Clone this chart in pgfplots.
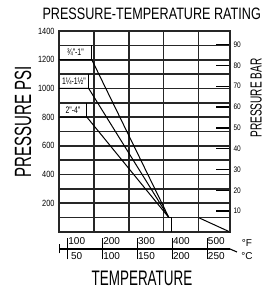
\documentclass[border=0pt]{standalone}
\usepackage{fontspec}
\setmainfont{Liberation Sans}
\newfontfamily\cond[FakeStretch=0.64]{Liberation Sans}
\newfontfamily\condt[FakeStretch=0.765]{Liberation Sans}
\newfontfamily\condr[FakeStretch=0.63]{Liberation Sans}
\newfontfamily\numf[FakeStretch=0.82]{Liberation Sans}
\newfontfamily\numn[FakeStretch=0.72]{Liberation Sans}
\usepackage{pgfplots}
\pgfplotsset{compat=1.18}
\definecolor{gridc}{gray}{0.15}
\begin{document}
\begin{tikzpicture}[x=1pt,y=1pt]
\useasboundingbox (0,0) rectangle (265,294);
\clip (0,0) rectangle (265,294);
% main axis (psi vs deg F)
\begin{axis}[
  at={(59pt,62pt)}, anchor=south west,
  scale only axis, width=171pt, height=201pt,
  xmin=75, xmax=565, ymin=0, ymax=1400,
  xtick={175,275,375,475}, xticklabels={},
  ytick={200,400,...,1400}, minor ytick={100,300,...,1300},
  grid=both,
  major grid style={line width=1.6pt, gridc},
  minor grid style={line width=1.6pt, gridc},
  axis line style={line width=1.7pt, gridc},
  major tick length=0pt, minor tick length=0pt,
  /pgf/number format/assume math mode=true,
  /pgf/number format/1000 sep={},
  yticklabel style={font=\numf\fontsize{9}{9}\selectfont, xshift=-1pt},
  clip=false,
]
\addplot[black, line width=1pt] coordinates {(75,1200) (169,1200) (390,100)};
\addplot[black, line width=1pt] coordinates {(75,1000) (160,1000) (390,100)};
\addplot[black, line width=1pt] coordinates {(75,800) (155,800) (390,100)};
\addplot[black, line width=1pt] coordinates {(390,100) (396,100) (396,0)};
\addplot[black, line width=1pt] coordinates {(475,100) (565,0)};
\addplot[black, line width=1pt] coordinates {(169,1200) (169,1300)};
\addplot[black, line width=1pt] coordinates {(160,1000) (160,1100)};
\addplot[black, line width=1pt] coordinates {(155,800) (155,900)};
\node[font=\numn\fontsize{9.5}{9.5}\selectfont] at (axis cs:122,1250) {¾"-1"};
\node[font=\numn\fontsize{9.5}{9.5}\selectfont] at (axis cs:118,1050) {1¼-1½"};
\node[font=\numn\fontsize{9.5}{9.5}\selectfont] at (axis cs:115,850) {2"-4"};
\end{axis}
% right axis (bar)
\begin{axis}[
  at={(59pt,62pt)}, anchor=south west,
  scale only axis, width=171pt, height=201pt,
  xmin=75, xmax=565, ymin=0, ymax=96.53,
  axis y line*=right, axis x line=none,
  ytick={10,20,...,90},
  tick align=inside, major tick length=14pt,
  tick style={line width=1.4pt, black},
  axis line style={line width=1.7pt, gridc},
  /pgf/number format/assume math mode=true,
  yticklabel style={font=\numf\fontsize{8}{8}\selectfont, xshift=0pt},
]
\addplot[draw=none] coordinates {(100,0)};
\end{axis}
% temperature scale
\begin{axis}[
  at={(59pt,45pt)}, anchor=south west,
  scale only axis, width=171pt, height=10pt,
  xmin=75, xmax=565, ymin=0, ymax=1,
  axis x line=bottom, hide y axis,
  x axis line style={-, line width=1.3pt, black},
  xtick={100,200,300,400,500}, xticklabels={},
  extra x ticks={75}, extra x tick labels={},
  extra x tick style={major tick length=9pt},
  tick align=center, major tick length=21pt,
  tick style={line width=0.9pt, black},
  clip=false,
  every node/.style={font=\numf\fontsize{8.5}{8.5}\selectfont},
]
\addplot[draw=none] coordinates {(100,0)};
\node at (axis cs:100,0) [xshift=9pt, yshift=7.5pt] {100};
\node at (axis cs:200,0) [xshift=9pt, yshift=7.5pt] {200};
\node at (axis cs:300,0) [xshift=9pt, yshift=7.5pt] {300};
\node at (axis cs:400,0) [xshift=9pt, yshift=7.5pt] {400};
\node at (axis cs:500,0) [xshift=9pt, yshift=7.5pt] {500};
\node at (axis cs:100,0) [xshift=9pt, yshift=-7.5pt] {50};
\node at (axis cs:200,0) [xshift=9pt, yshift=-7.5pt] {100};
\node at (axis cs:300,0) [xshift=9pt, yshift=-7.5pt] {150};
\node at (axis cs:400,0) [xshift=9pt, yshift=-7.5pt] {200};
\node at (axis cs:500,0) [xshift=9pt, yshift=-7.5pt] {250};
\node at (rel axis cs:1,0) [xshift=17pt, yshift=6pt] {°F};
\node at (rel axis cs:1,0) [xshift=17pt, yshift=-7pt] {°C};
\draw[line width=1.1pt] (rel axis cs:1,0) -- ++(7pt,-3pt);
\end{axis}
% titles and labels
\node[anchor=west, font=\condt\fontsize{16.5}{17}\selectfont] at (39,280) {PRESSURE-TEMPERATURE RATING};
\node[font=\cond\fontsize{21}{21}\selectfont] at (142,16) {TEMPERATURE};
\node[rotate=90, font=\cond\fontsize{23.5}{23.5}\selectfont] at (23,172) {PRESSURE PSI};
\node[rotate=90, font=\condr\fontsize{16}{16}\selectfont] at (256,196) {PRESSURE BAR};
\end{tikzpicture}
\end{document}
